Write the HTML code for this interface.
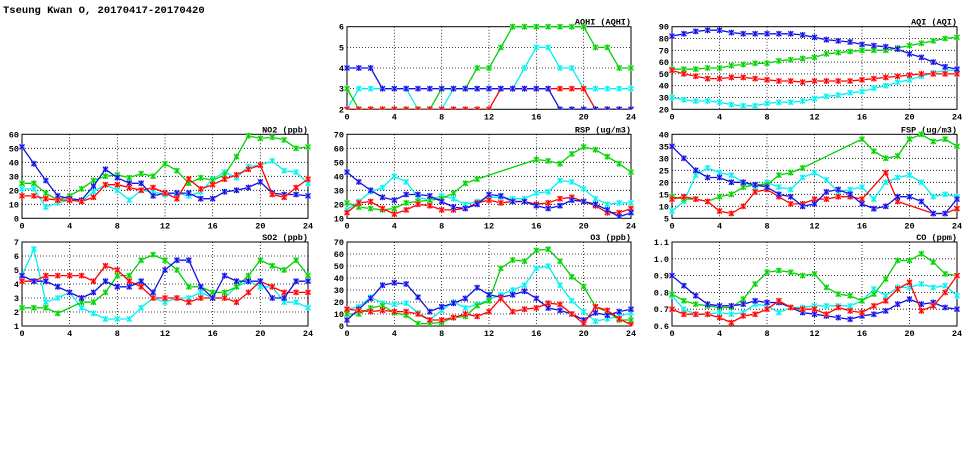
<!DOCTYPE html>
<html><head><meta charset="utf-8">
<style>
body{margin:0;background:#fff;width:975px;height:447px;overflow:hidden;font-family:"Liberation Mono",monospace;}
svg text{font-family:"Liberation Mono",monospace;font-weight:bold;}
</style></head><body>
<svg id="c" width="975" height="447">
<text x="3" y="13" font-size="10.5" font-weight="normal">Tseung Kwan O, 20170417-20170420</text>
</svg>
<script>
const hours=[0,1,2,3,4,5,6,7,8,9,10,11,12,13,14,15,16,17,18,19,20,21,22,23,24];
const xTicks=[0,4,8,12,16,20,24];
const N=null;
// AQHI
const aqhiBlue=[4,4,4,3,3,3,3,3,3,3,3,3,3,3,3,3,3,3,2,2,2,2,2,2,2];
const aqhiCyan=[2,3,3,3,3,3,2,2,2,3,3,3,3,3,3,4,5,5,4,4,3,3,3,3,3];
const aqhiGreen=[3,2,2,2,2,2,2,2,3,3,3,4,4,5,6,6,6,6,6,6,6,5,5,4,4];
const aqhiRed=[2,2,2,2,2,2,2,2,2,2,2,2,2,3,3,3,3,3,3,3,3,2,2,2,2];
const aqhiTicks=[2,3,4,5,6];
// AQI
const aqiBlue=[82,84,86,87,87,85,84,84,84,84,84,83,81,79,78,77,75,74,73,71,67,64,60,56,54];
const aqiCyan=[30,28,27,27,26,24,23,23,25,26,26,27,29,31,32,34,35,38,40,43,45,48,51,53,53];
const aqiGreen=[54,54,54,55,55,57,58,59,59,61,62,63,64,67,68,69,70,70,70,72,74,76,78,80,81];
const aqiRed=[53,50,48,46,46,47,47,46,45,44,44,43,44,44,44,44,45,46,47,48,49,50,50,50,50];
const aqiTicks=[20,30,40,50,60,70,80,90];
// NO2
const no2Blue=[51,39,27,16,14,13,23,35,29,25,25,16,18,18,18,14,14,19,20,22,26,18,17,17,16];
const no2Cyan=[21,21,8,11,13,12,19,24,20,13,20,19,17,18,16,19,28,33,29,37,38,41,34,33,25];
const no2Green=[25,25,18,13,16,21,27,30,31,29,32,30,39,34,25,29,27,31,44,59,57,58,56,50,51];
const no2Red=[16,16,14,13,13,12,15,24,24,22,20,22,18,14,28,21,24,28,31,35,38,17,15,22,28];
const no2Ticks=[0,10,20,30,40,50,60];
// RSP
const rspBlue=[43,36,30,25,23,27,27,26,22,18,17,20,27,26,22,22,19,17,19,23,22,20,16,11,14];
const rspCyan=[16,22,29,32,40,36,25,23,26,24,20,22,25,25,24,24,28,29,37,36,31,24,20,21,21];
const rspGreen=[21,18,17,16,17,21,22,23,24,28,35,38,N,N,N,N,52,51,49,56,61,59,54,49,43];
const rspRed=[14,21,22,17,13,16,20,19,16,16,17,21,23,21,22,22,20,21,24,25,22,19,14,14,17];
const rspTicks=[10,20,30,40,50,60,70];
// FSP
const fspBlue=[35,30,25,22,22,20,20,19,18,15,14,10,11,16,17,15,11,9,10,14,14,12,7,7,13];
const fspCyan=[8,12,23,26,24,23,20,18,20,18,17,22,24,21,16,17,18,13,20,22,23,20,14,15,14];
const fspGreen=[14,13,13,12,14,15,18,19,19,23,24,26,N,N,N,N,38,33,30,31,38,40,37,38,35];
const fspRed=[13,14,13,12,8,7,10,16,17,14,11,11,13,13,14,14,13,N,24,12,N,N,7,7,9];
const fspTicks=[5,10,15,20,25,30,35,40];
// SO2
const so2Blue=[4.6,4.2,4.2,3.8,3.4,3.0,3.4,4.2,3.8,3.8,4.2,3.4,5.0,5.7,5.7,3.8,3.0,4.6,4.2,4.2,4.2,3.0,3.0,4.2,4.2];
const so2Cyan=[4.6,6.5,2.7,3.0,3.4,2.3,1.9,1.5,1.5,1.5,2.3,3.0,2.7,3.0,3.0,3.4,3.0,3.0,3.8,4.2,3.8,3.8,2.7,2.7,2.3];
const so2Green=[2.3,2.3,2.3,1.9,N,2.7,2.7,3.4,4.6,4.6,5.7,6.1,5.7,5.0,3.8,3.8,3.4,3.4,3.8,4.6,5.7,5.3,5.0,5.7,4.6];
const so2Red=[4.2,4.2,4.6,4.6,4.6,4.6,4.2,5.3,5.0,4.2,3.8,3.0,3.0,3.0,2.7,3.0,3.0,3.0,2.7,3.4,4.2,3.8,3.4,3.4,3.4];
const so2Ticks=[1,2,3,4,5,6,7];
// O3
const o3Blue=[5,14,23,34,36,35,24,12,16,19,23,32,26,24,26,29,23,15,13,10,5,11,9,12,14];
const o3Cyan=[14,16,24,19,18,19,11,5,13,20,15,18,22,26,30,34,48,50,34,21,12,4,6,8,11];
const o3Green=[10,10,15,17,11,9,2,2,3,7,8,17,21,48,55,54,63,64,54,41,33,16,12,5,5];
const o3Red=[14,13,12,13,12,12,10,5,5,7,10,8,12,23,12,14,15,19,18,10,2,16,13,6,1];
const o3Ticks=[0,10,20,30,40,50,60,70];
// CO
const coBlue=[.90,.84,.78,.73,.72,.72,.73,.75,.74,.74,.71,.68,.67,.66,.65,.64,.66,.67,.69,.73,.76,.73,.74,.71,.70];
const coCyan=[.78,.70,.67,.67,.68,.67,.68,.73,.72,.68,.71,.71,.72,.72,.72,.72,.75,.82,.78,.83,.83,.85,.83,.84,.78];
const coGreen=[.79,.75,.73,.72,.71,.71,.76,.85,.92,.93,.92,.90,.91,.83,.79,.78,.75,.79,.88,.99,.99,1.03,.98,.91,.90];
const coRed=[.70,.67,.67,.67,.65,.62,.66,.67,.70,.75,.71,.70,.70,.67,.71,.69,.68,.72,.75,.82,.86,.69,.72,.80,.90];
const coTicks=[0.6,0.7,0.8,0.9,1.0,1.1];

const NS='http://www.w3.org/2000/svg';
const svg=document.getElementById('c');
function mk(tag,attrs,parent){const e=document.createElementNS(NS,tag);for(const k in attrs)e.setAttribute(k,attrs[k]);(parent||svg).appendChild(e);return e;}
const COLORS={red:'#ff0000',green:'#00d000',cyan:'#00f0f0',blue:'#1010e0'};
const LIGHT={red:'#ff9090',green:'#90f090',cyan:'#a0ffff',blue:'#9090ff'};

function panel(id,title,L,R,T,B,ticks,fmt,series){
  const ymin=ticks[0],ymax=ticks[ticks.length-1];
  const xs=h=>L+(R-L)*h/24;
  const ys=v=>B-(B-T)*(v-ymin)/(ymax-ymin);
  const g=mk('g',{});
  
  
  const cp=mk('clipPath',{id:'clip-'+id},g);mk('rect',{x:L-4,y:T-4,width:R-L+8,height:B-T+4},cp);
  ticks.forEach((t,i)=>{
    const y=ys(t);
    if(i>0&&i<ticks.length-1){const gl=mk('line',{x1:L,x2:R,y1:y,y2:y,stroke:'#000','stroke-width':0.8,'stroke-dasharray':'1,2'},g);}
    const tx=mk('text',{x:L-3,y:y+3,'font-size':8.5,'text-anchor':'end'},g);tx.textContent=fmt(t);
    
  });
  xTicks.forEach((t,i)=>{
    const x=xs(t);
    if(i>0&&i<xTicks.length-1){const gl=mk('line',{x1:x,x2:x,y1:T,y2:B,stroke:'#000','stroke-width':0.8,'stroke-dasharray':'1,2'},g);}
    const tx=mk('text',{x:x,y:B+10,'font-size':8.5,'text-anchor':'middle'},g);tx.textContent=t;
    
  });
  const fr=mk('rect',{x:L,y:T,width:R-L,height:B-T,fill:'none',stroke:'#000','stroke-width':1},g);
  
  const tt=mk('text',{x:R,y:T-2,'font-size':8.5,'text-anchor':'end'},g);tt.textContent=title;
  
  const sg=mk('g',{'clip-path':'url(#clip-'+id+')'},g);
  series.forEach(([col,vals])=>{
    let d='',pen=false;
    vals.forEach((v,i)=>{if(v===null)return;d+=(pen?'L':'M')+xs(hours[i]).toFixed(1)+','+ys(v).toFixed(1);pen=true;});
    const p=mk('path',{d:d,fill:'none',stroke:COLORS[col],'stroke-width':1.3},sg);
    
    vals.forEach((v,i)=>{if(v===null)return;const x=xs(hours[i]),y=ys(v);
      const m=mk('g',{},sg);
      
      mk('rect',{x:x-2.5,y:y-2.5,width:5,height:5,fill:LIGHT[col]},m);
      mk('path',{d:`M${x-2.5},${y-2.5}L${x+2.5},${y+2.5}M${x-2.5},${y+2.5}L${x+2.5},${y-2.5}M${x},${y-3}L${x},${y+3}`,stroke:COLORS[col],'stroke-width':1.1},m);
    });
  });
}
const f0=v=>String(v), f1=v=>v.toFixed(1);
const C1=[22,308],C2=[347,631],C3=[672,957];
const R0=[26.7,109.3],R1=[134.3,218.3],R2=[242,326];
panel('aqhi','AQHI (AQHI)',C2[0],C2[1],R0[0],R0[1],aqhiTicks,f0,[['cyan',aqhiCyan],['green',aqhiGreen],['red',aqhiRed],['blue',aqhiBlue]]);
panel('aqi','AQI (AQI)',C3[0],C3[1],R0[0],R0[1],aqiTicks,f0,[['cyan',aqiCyan],['green',aqiGreen],['red',aqiRed],['blue',aqiBlue]]);
panel('no2','NO2 (ppb)',C1[0],C1[1],R1[0],R1[1],no2Ticks,f0,[['cyan',no2Cyan],['green',no2Green],['blue',no2Blue],['red',no2Red]]);
panel('rsp','RSP (ug/m3)',C2[0],C2[1],R1[0],R1[1],rspTicks,f0,[['cyan',rspCyan],['green',rspGreen],['red',rspRed],['blue',rspBlue]]);
panel('fsp','FSP (ug/m3)',C3[0],C3[1],R1[0],R1[1],fspTicks,f0,[['cyan',fspCyan],['green',fspGreen],['red',fspRed],['blue',fspBlue]]);
panel('so2','SO2 (ppb)',C1[0],C1[1],R2[0],R2[1],so2Ticks,f0,[['cyan',so2Cyan],['green',so2Green],['red',so2Red],['blue',so2Blue]]);
panel('o3','O3 (ppb)',C2[0],C2[1],R2[0],R2[1],o3Ticks,f0,[['cyan',o3Cyan],['green',o3Green],['blue',o3Blue],['red',o3Red]]);
panel('co','CO (ppm)',C3[0],C3[1],R2[0],R2[1],coTicks,f1,[['cyan',coCyan],['green',coGreen],['blue',coBlue],['red',coRed]]);
</script>
</body></html>
